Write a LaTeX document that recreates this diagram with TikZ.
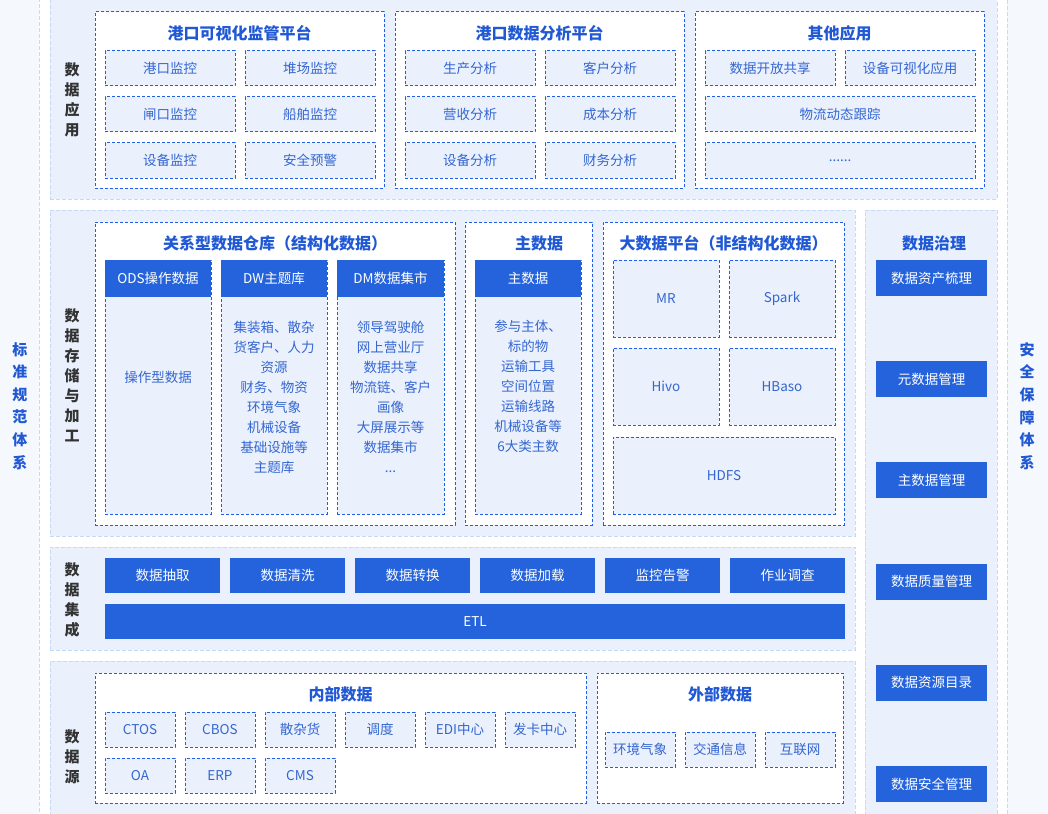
\documentclass[tikz,border=0pt]{standalone}
\usepackage{fontspec}
\setmainfont{Noto Sans CJK SC}
\usetikzlibrary{positioning}
\definecolor{layerfill}{HTML}{EAF1FD}
\definecolor{layerline}{HTML}{C6D9F7}
\definecolor{sidefill}{HTML}{F5F8FD}
\definecolor{dashblue}{HTML}{1F5EEB}
\definecolor{headblue}{HTML}{2563DC}
\definecolor{textblue}{HTML}{3566D0}
\definecolor{titleblue}{HTML}{2159D4}
\definecolor{labelgray}{HTML}{333333}
\begin{document}
\begin{tikzpicture}[x=1pt, y=-1pt]
    \tikzstyle{layerbox} = [draw=layerline, fill=layerfill, dash pattern=on 4pt off 2pt, line width=0.8pt, anchor=north west, inner sep=0pt, outer sep=0pt]
    \tikzstyle{sidebox} = [layerbox, fill=sidefill]
    \tikzstyle{panel} = [draw=dashblue, fill=white, dash pattern=on 3pt off 2pt, line width=1pt, anchor=north west, inner sep=0pt, outer sep=0pt]
    \tikzstyle{cell} = [draw=dashblue, fill=layerfill, dash pattern=on 3pt off 2pt, line width=1pt, inner sep=0pt, outer sep=0pt, text=textblue, font=\fontsize{13.5}{20}\selectfont, minimum width=130pt, minimum height=35pt]
    \tikzstyle{hdbox} = [fill=headblue, text=white, inner sep=0pt, outer sep=0pt, font=\fontsize{13.5}{20}\selectfont, minimum width=115pt, minimum height=35pt]
    \tikzstyle{ptitle} = [text=titleblue, font=\bfseries\fontsize{16}{20}\selectfont]
    \tikzstyle{vlabel} = [text=labelgray, font=\bfseries\fontsize{15}{20}\selectfont, align=center]
    \tikzstyle{slabel} = [text=titleblue, font=\bfseries\fontsize{15}{22.6}\selectfont, align=center]
    \tikzstyle{bodytext} = [text=textblue, font=\fontsize{13.5}{20}\selectfont, align=center]

    \useasboundingbox (0,0) rectangle (1048,813);

    % side columns
    \node [sidebox, minimum width=40pt, minimum height=815pt] (std) at (-1,-1) {};
    \node [sidebox, minimum width=42pt, minimum height=815pt] (sec) at (1007,-1) {};
    \node [slabel] (stdt) at (20,406) {标\\准\\规\\范\\体\\系};
    \node [slabel] (sect) at (1027,406) {安\\全\\保\\障\\体\\系};

    % layers
    \node [layerbox, minimum width=947pt, minimum height=200pt] (app) at (50,-1) {};
    \node [layerbox, minimum width=805pt, minimum height=326pt] (store) at (50,210) {};
    \node [layerbox, minimum width=805pt, minimum height=103pt] (integ) at (50,547) {};
    \node [layerbox, minimum width=805pt, minimum height=153pt] (src) at (50,661) {};
    \node [layerbox, minimum width=132pt, minimum height=604pt] (gov) at (865,210) {};
    \node [vlabel] (appt) at (72,100) {数\\据\\应\\用};
    \node [vlabel] (storet) at (72,375) {数\\据\\存\\储\\与\\加\\工};
    \node [vlabel] (integt) at (72,600) {数\\据\\集\\成};
    \node [vlabel] (srct) at (72,757) {数\\据\\源};

    % data applications
    \node [panel, minimum width=289pt, minimum height=176pt] (vis) at (95,12) {};
    \node [panel, minimum width=289pt, minimum height=176pt] (ana) at (395,12) {};
    \node [panel, minimum width=289pt, minimum height=176pt] (oth) at (695,12) {};
    \node [ptitle] (vist) at (239.5,33) {港口可视化监管平台};
    \node [ptitle] (anat) at (539.5,33) {港口数据分析平台};
    \node [ptitle] (otht) at (839.5,33) {其他应用};

    \node [cell] (gkjk) at (170,68.5) {港口监控};
    \node [cell, right=10pt of gkjk] (dcjk) {堆场监控};
    \node [cell, below=11pt of gkjk] (zkjk) {闸口监控};
    \node [cell, right=10pt of zkjk] (cbjk) {船舶监控};
    \node [cell, below=11pt of zkjk] (sbjk) {设备监控};
    \node [cell, right=10pt of sbjk] (aqyj) {安全预警};

    \node [cell] (scfx) at (470,68.5) {生产分析};
    \node [cell, right=10pt of scfx] (khfx) {客户分析};
    \node [cell, below=11pt of scfx] (ysfx) {营收分析};
    \node [cell, right=10pt of ysfx] (cbfx) {成本分析};
    \node [cell, below=11pt of ysfx] (sbfx) {设备分析};
    \node [cell, right=10pt of sbfx] (cwfx) {财务分析};

    \node [cell] (kfgx) at (770,68.5) {数据开放共享};
    \node [cell, right=10pt of kfgx] (sbks) {设备可视化应用};
    \node [cell, minimum width=270pt] (wlgz) at (840,114.5) {物流动态跟踪};
    \node [cell, minimum width=270pt, below=11pt of wlgz] (more) {......};

    % data storage and processing
    \node [panel, minimum width=360pt, minimum height=303pt] (rdb) at (95,222) {};
    \node [panel, minimum width=127pt, minimum height=303pt] (mdm) at (465,222) {};
    \node [panel, minimum width=241pt, minimum height=303pt] (big) at (603,222) {};
    \node [ptitle] (rdbt) at (275,243) {关系型数据仓库（结构化数据）};
    \node [ptitle] (mdmt) at (539,243) {主数据};
    \node [ptitle] (bigt) at (723.5,243) {大数据平台（非结构化数据）};

    \node [cell, anchor=north west, minimum width=106pt, minimum height=254pt] (odsb) at (105,260) {};
    \node [cell, anchor=north west, minimum width=106pt, minimum height=254pt] (dwb) at (221,260) {};
    \node [cell, anchor=north west, minimum width=107pt, minimum height=254pt] (dmb) at (337,260) {};
    \node [cell, anchor=north west, minimum width=106pt, minimum height=254pt] (mdmb) at (475,260) {};
    \node [hdbox, anchor=north west, minimum width=106pt, minimum height=37pt] (ods) at (105,260) {ODS操作数据};
    \node [hdbox, anchor=north west, minimum width=106pt, minimum height=37pt] (dw) at (221,260) {DW主题库};
    \node [hdbox, anchor=north west, minimum width=107pt, minimum height=37pt] (dm) at (337,260) {DM数据集市};
    \node [hdbox, anchor=north west, minimum width=106pt, minimum height=37pt] (mdmh) at (475,260) {主数据};
    \node [bodytext] (odst) at (158,377) {操作型数据};
    \node [bodytext] (dwt) at (274,397) {集装箱、散杂\\货客户、人力\\资源\\财务、物资\\环境气象\\机械设备\\基础设施等\\主题库};
    \node [bodytext] (dmt) at (390.5,397) {领导驾驶舱\\网上营业厅\\数据共享\\物流链、客户\\画像\\大屏展示等\\数据集市\\...};
    \node [bodytext] (mdmtx) at (528,386) {参与主体、\\标的物\\运输工具\\空间位置\\运输线路\\机械设备等\\6大类主数};

    \node [cell, anchor=north west, minimum width=106pt, minimum height=77pt] (mr) at (613,260) {MR};
    \node [cell, anchor=north west, minimum width=106pt, minimum height=77pt] (spark) at (729,260) {Spark};
    \node [cell, anchor=north west, minimum width=106pt, minimum height=77pt] (hivo) at (613,348) {Hivo};
    \node [cell, anchor=north west, minimum width=106pt, minimum height=77pt] (hbaso) at (729,348) {HBaso};
    \node [cell, anchor=north west, minimum width=222pt, minimum height=77pt] (hdfs) at (613,437) {HDFS};

    % data governance
    \node [ptitle] (govt) at (934,243) {数据治理};
    \node [hdbox, anchor=north, minimum width=111pt, minimum height=36pt] (zcsl) at (931.5,260) {数据资产梳理};
    \node [hdbox, minimum width=111pt, minimum height=36pt, below=65.2pt of zcsl] (ysj) {元数据管理};
    \node [hdbox, minimum width=111pt, minimum height=36pt, below=65.2pt of ysj] (zsj) {主数据管理};
    \node [hdbox, minimum width=111pt, minimum height=36pt, below=65.2pt of zsj] (zlgl) {数据质量管理};
    \node [hdbox, minimum width=111pt, minimum height=36pt, below=65.2pt of zlgl] (zyml) {数据资源目录};
    \node [hdbox, minimum width=111pt, minimum height=36pt, below=65.2pt of zyml] (aqgl) {数据安全管理};

    % data integration
    \node [hdbox, anchor=north west] (cq) at (105,558) {数据抽取};
    \node [hdbox, right=10pt of cq] (qx) {数据清洗};
    \node [hdbox, right=10pt of qx] (zh) {数据转换};
    \node [hdbox, right=10pt of zh] (jz) {数据加载};
    \node [hdbox, right=10pt of jz] (jk) {监控告警};
    \node [hdbox, right=10pt of jk] (zy) {作业调查};
    \node [hdbox, anchor=north west, minimum width=740pt] (etl) at (105,604) {ETL};

    % data sources
    \node [panel, minimum width=491pt, minimum height=130pt] (inner) at (95,673) {};
    \node [panel, minimum width=246pt, minimum height=130pt] (outer) at (597,673) {};
    \node [ptitle] (innert) at (340.5,694) {内部数据};
    \node [ptitle] (outert) at (720,694) {外部数据};

    \node [cell, anchor=north west, minimum width=70pt] (ctos) at (105,712) {CTOS};
    \node [cell, minimum width=70pt, right=10pt of ctos] (cbos) {CBOS};
    \node [cell, minimum width=70pt, right=10pt of cbos] (szh) {散杂货};
    \node [cell, minimum width=70pt, right=10pt of szh] (dd) {调度};
    \node [cell, minimum width=70pt, right=10pt of dd] (edi) {EDI中心};
    \node [cell, minimum width=70pt, right=10pt of edi] (fk) {发卡中心};
    \node [cell, minimum width=70pt, below=11pt of ctos] (oa) {OA};
    \node [cell, minimum width=70pt, right=10pt of oa] (erp) {ERP};
    \node [cell, minimum width=70pt, right=10pt of erp] (cms) {CMS};

    \node [cell, anchor=north west, minimum width=70pt] (hjqx) at (605,732) {环境气象};
    \node [cell, minimum width=70pt, right=10pt of hjqx] (jtxx) {交通信息};
    \node [cell, minimum width=70pt, right=10pt of jtxx] (hlw) {互联网};
\end{tikzpicture}
\end{document}
